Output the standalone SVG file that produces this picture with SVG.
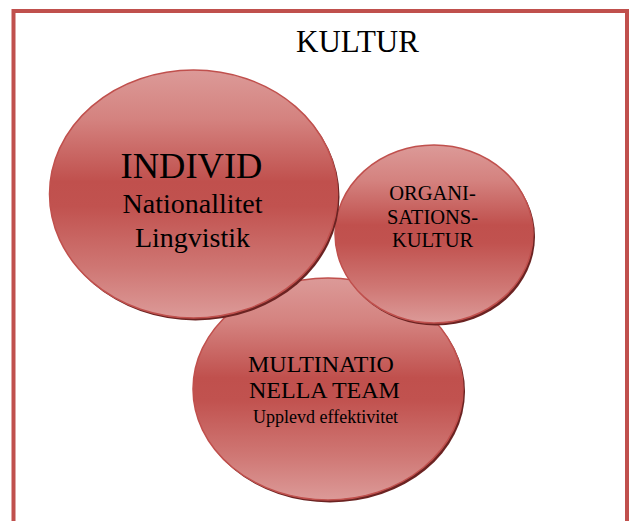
<svg xmlns="http://www.w3.org/2000/svg" width="630" height="521" viewBox="0 0 630 521">
  <defs>
    <linearGradient id="g" x1="0" y1="0" x2="0" y2="1">
      <stop offset="0" stop-color="#dc9a98"/>
      <stop offset="0.2" stop-color="#d4827f"/>
      <stop offset="0.45" stop-color="#c0504d"/>
      <stop offset="0.55" stop-color="#c1524f"/>
      <stop offset="0.8" stop-color="#cf7774"/>
      <stop offset="1" stop-color="#dc9a98"/>
    </linearGradient>
  </defs>
  <style>
    .shadow { fill: #6b2322; }
    .ell { fill: url(#g); stroke: #c0504d; stroke-width: 1.5; }
    text { font-family: "Liberation Serif", "Times New Roman", serif; fill: #000; }
  </style>
  <rect x="13.5" y="11" width="613.5" height="530" fill="#ffffff" stroke="#c0504d" stroke-width="4"/>
  <text x="357.5" y="52" font-size="31" text-anchor="middle">KULTUR</text>

  <g id="team">
    <ellipse class="shadow" cx="330" cy="391.5" rx="135" ry="111"/>
    <ellipse class="ell" cx="328" cy="389" rx="135" ry="111"/>
    <text x="248" y="372" font-size="24">MULTINATIO</text>
    <text x="249" y="398" font-size="24">NELLA TEAM</text>
    <text x="253" y="423" font-size="18">Upplevd effektivitet</text>
  </g>

  <g id="org">
    <ellipse class="shadow" cx="436" cy="236.5" rx="99" ry="89"/>
    <ellipse class="ell" cx="434" cy="234" rx="99" ry="89"/>
    <text x="432.5" y="200" font-size="20.5" text-anchor="middle">ORGANI-</text>
    <text x="432.5" y="223.5" font-size="20.5" text-anchor="middle">SATIONS-</text>
    <text x="432.5" y="247" font-size="20.5" text-anchor="middle">KULTUR</text>
  </g>

  <g id="individ">
    <ellipse class="shadow" cx="195.5" cy="196.5" rx="144" ry="124"/>
    <ellipse class="ell" cx="193.5" cy="194" rx="144" ry="124"/>
    <text x="191.5" y="178" font-size="36.5" text-anchor="middle">INDIVID</text>
    <text x="192.5" y="213" font-size="28" text-anchor="middle">Nationallitet</text>
    <text x="192.5" y="247" font-size="28" text-anchor="middle">Lingvistik</text>
  </g>

  <g id="connectors"></g>
</svg>
